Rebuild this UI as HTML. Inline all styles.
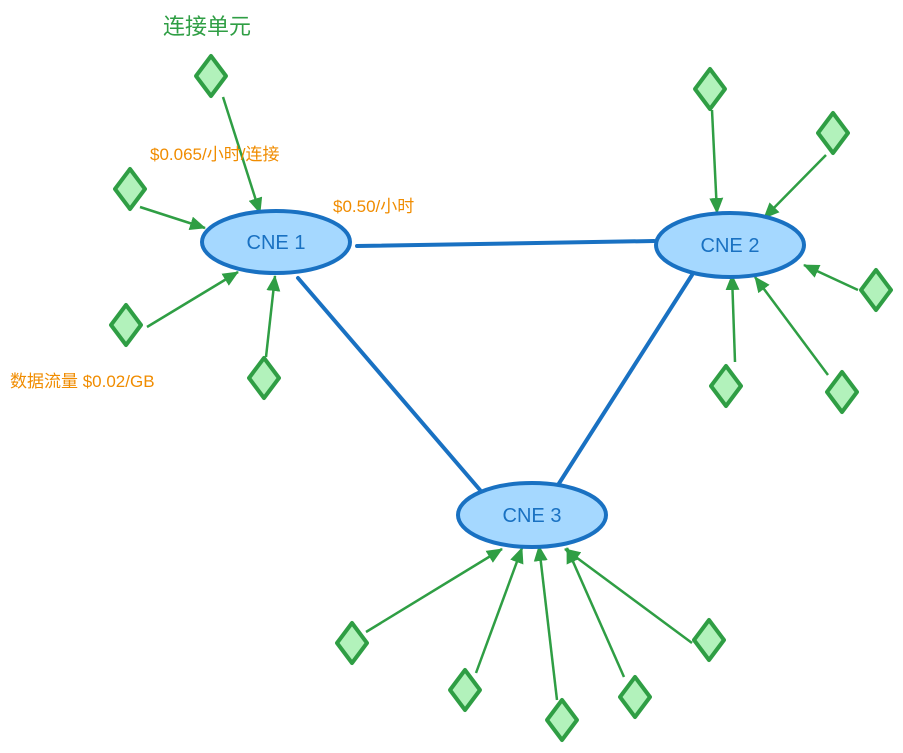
<!DOCTYPE html>
<html><head><meta charset="utf-8"><style>body{margin:0;background:#fff}svg{display:block}</style></head>
<body>
<svg width="903" height="753" xmlns="http://www.w3.org/2000/svg" font-family="'Liberation Sans','Noto Sans CJK SC',sans-serif">
<defs>
<marker id="a" viewBox="0 0 10 10" refX="9" refY="5" markerWidth="6" markerHeight="6" orient="auto-start-reverse" markerUnits="userSpaceOnUse">
</marker>
<marker id="ar" markerWidth="16" markerHeight="14" refX="15" refY="7" orient="auto" markerUnits="userSpaceOnUse"><path d="M0,0 L16,7 L0,14 Z" fill="#2f9e44"/></marker>
<g id="d"><path d="M0,-20 L15,0 L0,20 L-15,0 Z" fill="#b2f2bb" stroke="#2f9e44" stroke-width="4" stroke-linejoin="round"/></g>
</defs>
<g stroke="#1971c2" stroke-width="4" fill="none" stroke-linecap="round">
<line x1="357" y1="246" x2="654" y2="241"/>
<line x1="298" y1="278" x2="480" y2="490"/>
<line x1="692" y1="275" x2="558" y2="485"/>
</g>
<g stroke="#2f9e44" stroke-width="2.5" marker-end="url(#ar)">
<line x1="223" y1="97" x2="260" y2="213"/>
<line x1="140" y1="207" x2="205" y2="228"/>
<line x1="147" y1="327" x2="238" y2="272"/>
<line x1="266" y1="357" x2="275" y2="276"/>
<line x1="712" y1="110" x2="717" y2="213"/>
<line x1="826" y1="155" x2="764" y2="218"/>
<line x1="858" y1="290" x2="804" y2="265"/>
<line x1="735" y1="362" x2="732" y2="275"/>
<line x1="828" y1="375" x2="755" y2="277"/>
<line x1="366" y1="632" x2="502" y2="549"/>
<line x1="476" y1="673" x2="522" y2="548"/>
<line x1="557" y1="700" x2="539" y2="546"/>
<line x1="624" y1="677" x2="567" y2="548"/>
<line x1="692" y1="643" x2="565" y2="549"/>
</g>
<g fill="#a5d8ff" stroke="#1971c2" stroke-width="4">
<ellipse cx="276" cy="242" rx="74" ry="31"/>
<ellipse cx="730" cy="245" rx="74" ry="32"/>
<ellipse cx="532" cy="515" rx="74" ry="32"/>
</g>
<g fill="#1971c2" font-size="20" text-anchor="middle">
<text x="276" y="249">CNE 1</text>
<text x="730" y="252">CNE 2</text>
<text x="532" y="522">CNE 3</text>
</g>
<use href="#d" x="211" y="76"/><use href="#d" x="130" y="189"/><use href="#d" x="126" y="325"/><use href="#d" x="264" y="378"/>
<use href="#d" x="710" y="89"/><use href="#d" x="833" y="133"/><use href="#d" x="876" y="290"/><use href="#d" x="726" y="386"/><use href="#d" x="842" y="392"/>
<use href="#d" x="352" y="643"/><use href="#d" x="465" y="690"/><use href="#d" x="562" y="720"/><use href="#d" x="635" y="697"/><use href="#d" x="709" y="640"/>
<text x="163" y="34" font-size="22" fill="#2f9e44">连接单元</text>
<g fill="#f08c00" font-size="17">
<text x="150" y="160">$0.065/小时/连接</text>
<text x="333" y="212">$0.50/小时</text>
<text x="10" y="387">数据流量  $0.02/GB</text>
</g>
</svg>
</body></html>
